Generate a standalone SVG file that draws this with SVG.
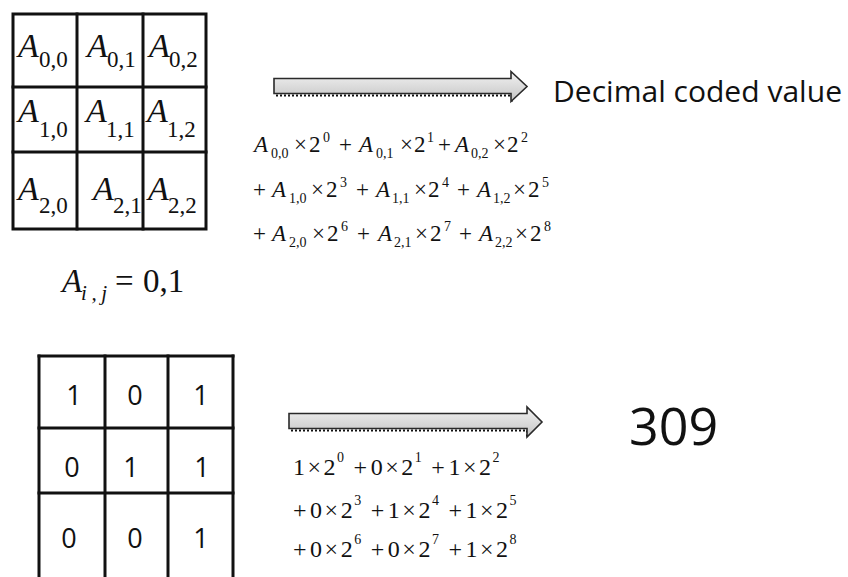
<svg xmlns="http://www.w3.org/2000/svg" width="848" height="577" viewBox="0 0 848 577">
<style>
.grid{fill:none;stroke:#111;stroke-width:3;stroke-linecap:square}
text.m{font-family:'Liberation Serif','Times New Roman','DejaVu Serif',serif;fill:#111}
.i{font-style:italic}
.cellA{font-size:34px}
.cellS{font-size:23px}
.f1{font-size:23px}
.f2{font-size:24px}
.s1{font-size:14px}
text.sans{font-family:'Open Sans','Liberation Sans',sans-serif;fill:#111}
.dig{font-size:27px;text-anchor:middle}
.arrow{fill:url(#ag);stroke:#2a2a2a;stroke-width:1.6;stroke-linejoin:miter}
.shadow{stroke:#111;stroke-width:2;stroke-dasharray:2 2;fill:none}
</style>
<defs>
<linearGradient id="ag" x1="0" y1="0" x2="0" y2="1">
<stop offset="0" stop-color="#f2f2f2"/>
<stop offset="1" stop-color="#c4c4c4"/>
</linearGradient>
</defs>
<rect width="848" height="577" fill="#fff"/>

<g id="grid-top">
<rect class="grid" x="13" y="14" width="193" height="215"/>
<line class="grid" x1="77" y1="14" x2="77" y2="229"/>
<line class="grid" x1="143" y1="14" x2="143" y2="229"/>
<line class="grid" x1="13" y1="87" x2="206" y2="87"/>
<line class="grid" x1="13" y1="152" x2="206" y2="152"/>
<text class="m"><tspan class="i cellA" x="18" y="57">A</tspan><tspan class="cellS" x="39" y="67">0,0</tspan></text>
<text class="m"><tspan class="i cellA" x="87" y="57">A</tspan><tspan class="cellS" x="107" y="67">0,1</tspan></text>
<text class="m"><tspan class="i cellA" x="149" y="57">A</tspan><tspan class="cellS" x="169" y="67">0,2</tspan></text>
<text class="m"><tspan class="i cellA" x="18" y="122">A</tspan><tspan class="cellS" x="39" y="137">1,0</tspan></text>
<text class="m"><tspan class="i cellA" x="86" y="122">A</tspan><tspan class="cellS" x="106" y="137">1,1</tspan></text>
<text class="m"><tspan class="i cellA" x="147" y="122">A</tspan><tspan class="cellS" x="167" y="137">1,2</tspan></text>
<text class="m"><tspan class="i cellA" x="18" y="200">A</tspan><tspan class="cellS" x="39" y="213">2,0</tspan></text>
<text class="m"><tspan class="i cellA" x="93" y="200">A</tspan><tspan class="cellS" x="113" y="213">2,1</tspan></text>
<text class="m"><tspan class="i cellA" x="148" y="200">A</tspan><tspan class="cellS" x="168" y="213">2,2</tspan></text>
</g>

<g id="domain-label">
<text class="m" font-size="33"><tspan class="i" x="62" y="292">A</tspan><tspan class="i" font-size="21" x="81" y="300" textLength="26" lengthAdjust="spacing">i,j</tspan><tspan x="115" y="292">=</tspan><tspan x="143" y="292">0,1</tspan></text>
</g>

<g id="formula-top">
<text class="m f1">
<tspan class="i" x="254" y="152">A</tspan><tspan class="s1" x="271" y="158">0,0</tspan><tspan x="294" y="152">×</tspan><tspan x="309" y="152">2</tspan><tspan class="s1" x="323" y="142">0</tspan><tspan x="339" y="152">+</tspan><tspan class="i" x="359" y="152">A</tspan><tspan class="s1" x="376" y="158">0,1</tspan><tspan x="400" y="152">×</tspan><tspan x="414" y="152">2</tspan><tspan class="s1" x="427" y="142">1</tspan><tspan x="438" y="152">+</tspan><tspan class="i" x="455" y="152">A</tspan><tspan class="s1" x="471" y="158">0,2</tspan><tspan x="493" y="152">×</tspan><tspan x="507" y="152">2</tspan><tspan class="s1" x="521" y="142">2</tspan>
</text>
<text class="m f1">
<tspan x="253" y="197">+</tspan><tspan class="i" x="272" y="197">A</tspan><tspan class="s1" x="289" y="203">1,0</tspan><tspan x="311" y="197">×</tspan><tspan x="326" y="197">2</tspan><tspan class="s1" x="340" y="187">3</tspan><tspan x="356" y="197">+</tspan><tspan class="i" x="376" y="197">A</tspan><tspan class="s1" x="392" y="203">1,1</tspan><tspan x="414" y="197">×</tspan><tspan x="428" y="197">2</tspan><tspan class="s1" x="442" y="187">4</tspan><tspan x="457" y="197">+</tspan><tspan class="i" x="477" y="197">A</tspan><tspan class="s1" x="493" y="203">1,2</tspan><tspan x="513" y="197">×</tspan><tspan x="528" y="197">2</tspan><tspan class="s1" x="542" y="187">5</tspan>
</text>
<text class="m f1">
<tspan x="253" y="241">+</tspan><tspan class="i" x="272" y="241">A</tspan><tspan class="s1" x="289" y="247">2,0</tspan><tspan x="312" y="241">×</tspan><tspan x="327" y="241">2</tspan><tspan class="s1" x="341" y="231">6</tspan><tspan x="357" y="241">+</tspan><tspan class="i" x="378" y="241">A</tspan><tspan class="s1" x="394" y="247">2,1</tspan><tspan x="415" y="241">×</tspan><tspan x="430" y="241">2</tspan><tspan class="s1" x="444" y="231">7</tspan><tspan x="459" y="241">+</tspan><tspan class="i" x="479" y="241">A</tspan><tspan class="s1" x="495" y="247">2,2</tspan><tspan x="515" y="241">×</tspan><tspan x="530" y="241">2</tspan><tspan class="s1" x="544" y="231">8</tspan>
</text>
</g>

<g id="label-top">
<text class="sans" font-size="29" x="553" y="102" textLength="289" lengthAdjust="spacingAndGlyphs">Decimal coded value</text>
</g>

<g id="grid-bottom">
<line class="grid" x1="39" y1="356" x2="233" y2="356"/>
<line class="grid" x1="39" y1="428" x2="233" y2="428"/>
<line class="grid" x1="39" y1="493" x2="233" y2="493"/>
<line class="grid" x1="39" y1="356" x2="39" y2="580"/>
<line class="grid" x1="105" y1="356" x2="105" y2="580"/>
<line class="grid" x1="168" y1="356" x2="168" y2="580"/>
<line class="grid" x1="233" y1="356" x2="233" y2="580"/>
<text class="sans dig" x="74" y="405">1</text>
<text class="sans dig" x="135" y="405">0</text>
<text class="sans dig" x="201" y="405">1</text>
<text class="sans dig" x="72" y="477">0</text>
<text class="sans dig" x="131" y="477">1</text>
<text class="sans dig" x="202" y="477">1</text>
<text class="sans dig" x="69" y="548">0</text>
<text class="sans dig" x="135" y="548">0</text>
<text class="sans dig" x="201" y="548">1</text>
</g>

<g id="formula-bottom">
<text class="m f2">
<tspan x="293" y="475">1</tspan><tspan x="307.5" y="475">×</tspan><tspan x="323.6" y="475">2</tspan><tspan class="s1" x="337.1" y="462">0</tspan><tspan x="353.6" y="475">+</tspan><tspan x="370.7" y="475">0</tspan><tspan x="385.2" y="475">×</tspan><tspan x="401.3" y="475">2</tspan><tspan class="s1" x="414.8" y="462">1</tspan><tspan x="431.3" y="475">+</tspan><tspan x="448.4" y="475">1</tspan><tspan x="462.9" y="475">×</tspan><tspan x="479" y="475">2</tspan><tspan class="s1" x="492.5" y="462">2</tspan>
</text>
<text class="m f2">
<tspan x="293" y="518">+</tspan><tspan x="310.1" y="518">0</tspan><tspan x="324.6" y="518">×</tspan><tspan x="340.7" y="518">2</tspan><tspan class="s1" x="354.2" y="505">3</tspan><tspan x="370.7" y="518">+</tspan><tspan x="387.8" y="518">1</tspan><tspan x="402.3" y="518">×</tspan><tspan x="418.4" y="518">2</tspan><tspan class="s1" x="431.9" y="505">4</tspan><tspan x="448.4" y="518">+</tspan><tspan x="465.5" y="518">1</tspan><tspan x="480" y="518">×</tspan><tspan x="496.1" y="518">2</tspan><tspan class="s1" x="509.6" y="505">5</tspan>
</text>
<text class="m f2">
<tspan x="293" y="557">+</tspan><tspan x="310.1" y="557">0</tspan><tspan x="324.6" y="557">×</tspan><tspan x="340.7" y="557">2</tspan><tspan class="s1" x="354.2" y="544">6</tspan><tspan x="370.7" y="557">+</tspan><tspan x="387.8" y="557">0</tspan><tspan x="402.3" y="557">×</tspan><tspan x="418.4" y="557">2</tspan><tspan class="s1" x="431.9" y="544">7</tspan><tspan x="448.4" y="557">+</tspan><tspan x="465.5" y="557">1</tspan><tspan x="480" y="557">×</tspan><tspan x="496.1" y="557">2</tspan><tspan class="s1" x="509.6" y="544">8</tspan>
</text>
</g>

<g id="result">
<text class="sans" font-size="52" x="629" y="445">309</text>
</g>

<g id="connectors">
<polyline class="shadow" points="276,95.5 512,95.5 512,102"/>
<polygon class="arrow" points="274,78.5 511,78.5 511,71.5 527,86.5 511,101.5 511,93.5 274,93.5"/>
<polyline class="shadow" points="291,430.5 527,430.5 527,437"/>
<polygon class="arrow" points="289,413.5 527,413.5 527,407 542,422 527,437 527,428.5 289,428.5"/>
</g>
</svg>
